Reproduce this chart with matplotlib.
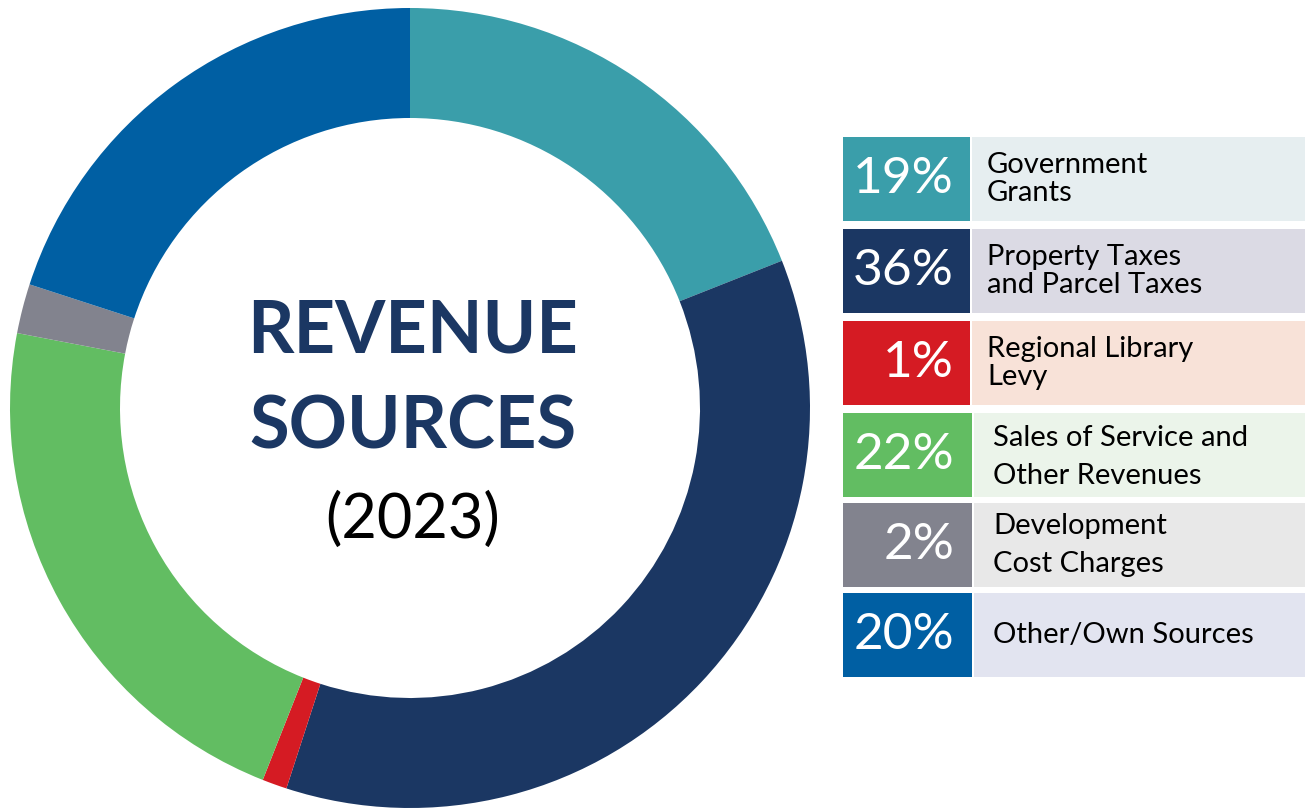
import matplotlib.pyplot as plt
from matplotlib.patches import Rectangle

plt.rcParams['font.family'] = ['Lato', 'DejaVu Sans']

# revenue shares, 2023
sources = ['Government\nGrants', 'Property Taxes\nand Parcel Taxes', 'Regional Library\nLevy',
           'Sales of Service and\nOther Revenues', 'Development\nCost Charges', 'Other/Own Sources']
shares = [19, 36, 1, 22, 2, 20]
colors = ['#3A9EAA', '#1B3763', '#D51B23', '#62BD62', '#82838E', '#005FA3']
tints = ['#E6EEF0', '#DBDAE4', '#F8E2D8', '#EBF4EA', '#E8E8E8', '#E2E4F0']

W, H = 1306, 808
fig = plt.figure(figsize=(W / 100, H / 100), dpi=100)
ax = fig.add_axes([0, 0, 1, 1])
ax.set_xlim(0, W)
ax.set_ylim(0, H)
ax.set_aspect('equal')
ax.axis('off')

# donut
ax.pie(shares, colors=colors, startangle=90, counterclock=False,
       center=(410, 400), radius=400,
       wedgeprops=dict(width=110, linewidth=0))
ax.set_xlim(0, W)
ax.set_ylim(0, H)

ax.text(413, 476, 'REVENUE', ha='center', va='center', fontsize=52,
        fontweight='bold', color='#1B3763')
ax.text(413, 380, 'SOURCES', ha='center', va='center', fontsize=52,
        fontweight='bold', color='#1B3763')
ax.text(413, 288, '(2023)', ha='center', va='center', fontsize=44, color='black')

# legend table
tops = [137, 229, 321, 413, 503, 593]
row_h = 84
for i, (lab, v) in enumerate(zip(sources, shares)):
    y0 = H - tops[i] - row_h
    split = 970 if i < 3 else 972
    ax.add_patch(Rectangle((843, y0), split - 843, row_h, color=colors[i], lw=0))
    ax.add_patch(Rectangle((split + 2, y0), 1305 - split - 2, row_h, color=tints[i], lw=0))
    ax.text(954, y0 + row_h / 2, f'{v}%', ha='right', va='center',
            fontsize=37, color='white')
    tx = 987 if i < 3 else 993
    ls = 1.1 if i < 3 else 1.6
    ax.text(tx, y0 + row_h / 2 - (2 if i == 3 else 0), lab, ha='left', va='center',
            fontsize=21, color='black', linespacing=ls)

fig.savefig('out.png', dpi=100)
